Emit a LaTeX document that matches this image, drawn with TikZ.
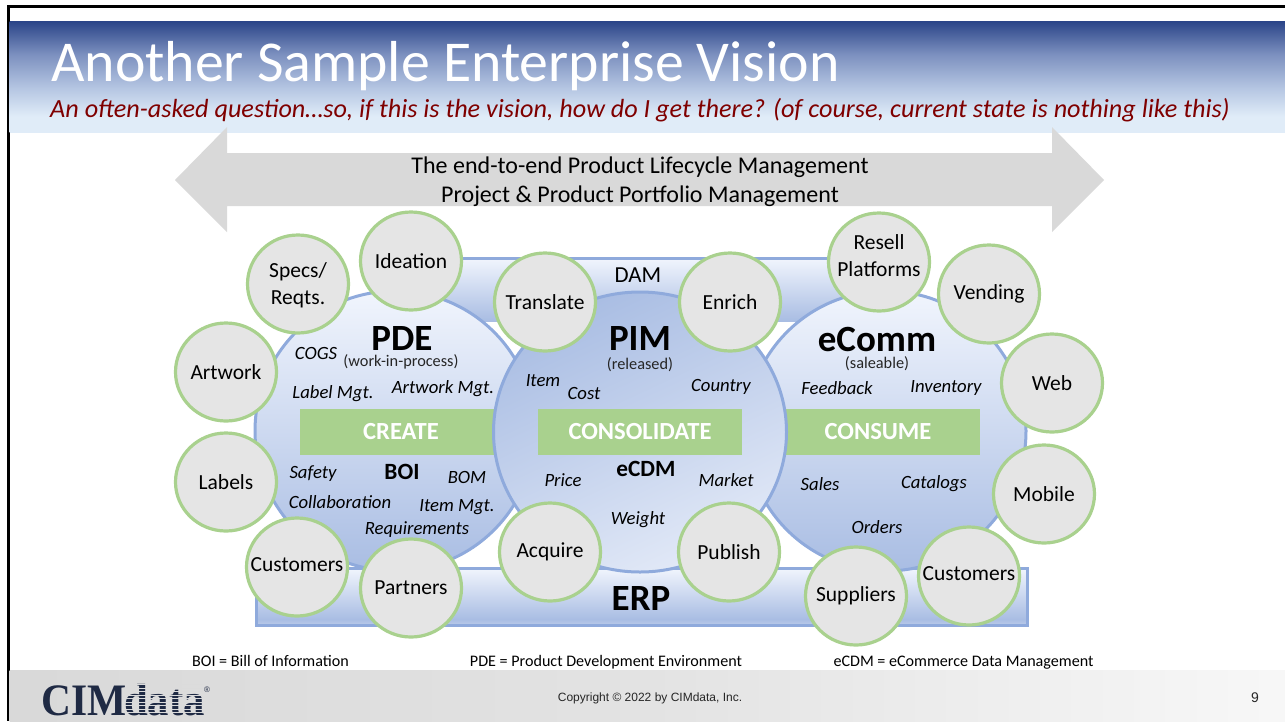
\documentclass[tikz,border=0pt]{standalone}
\usepackage{fontspec}
\setmainfont{Carlito}
\newfontfamily\arialf{Liberation Sans}
\newfontfamily\logof{Liberation Serif}
\usetikzlibrary{shapes.geometric}
\definecolor{hdrA}{HTML}{2A4488}
\definecolor{hdrB}{HTML}{7C90BF}
\definecolor{hdrC}{HTML}{B4C5E2}
\definecolor{hdrD}{HTML}{E0ECF8}
\definecolor{blueedge}{HTML}{8FAADC}
\definecolor{bluedark}{HTML}{A9BDE3}
\definecolor{bluelight}{HTML}{F1F5FD}
\definecolor{pimlight}{HTML}{E2E9F7}
\definecolor{greenbar}{HTML}{A9D18E}
\definecolor{gline}{HTML}{A9D18E}
\definecolor{bubble}{HTML}{E5E5E5}
\definecolor{arrowgray}{HTML}{D9D9D9}
\definecolor{subred}{HTML}{7F0000}
\definecolor{logoblue}{HTML}{1F2A44}
\pgfdeclareverticalshading{hdrshade}{100bp}{
 color(0bp)=(hdrD); color(32bp)=(hdrD); color(45bp)=(hdrC); color(60bp)=(hdrB); color(75bp)=(hdrA); color(100bp)=(hdrA)}
\pgfdeclareverticalshading{erpshade}{100bp}{
 color(0bp)=(bluedark!80!white); color(25bp)=(bluedark!80!white); color(30bp)=(bluedark); color(75bp)=(bluelight); color(100bp)=(bluelight)}
\pgfdeclareverticalshading{damshade}{100bp}{
 color(0bp)=(bluedark); color(25bp)=(bluedark); color(75bp)=(bluelight); color(100bp)=(bluelight)}
\tikzset{
 x=1pt,y=-1pt,
 bubblenode/.style={ellipse,draw=gline,line width=3.2pt,fill=bubble,minimum width=101pt,minimum height=98pt,inner xsep=-25pt,inner ysep=-5pt,align=center,font=\fontsize{21.5}{27}\selectfont,text=black},
 bubbletext/.style={inner sep=0pt,align=center,font=\fontsize{21.5}{27}\selectfont,text=black},
 ital/.style={font=\fontsize{18.7}{20}\selectfont\itshape,text=black,inner sep=0pt},
 bighead/.style={font=\fontsize{37}{38}\selectfont\bfseries,text=black,inner sep=0pt},
 midhead/.style={font=\fontsize{23.3}{24}\selectfont\bfseries,text=black,inner sep=0pt},
 sublabel/.style={font=\fontsize{16.3}{17}\selectfont,text=black!85,inner sep=0pt},
 barlabel/.style={font=\fontsize{24.6}{26}\selectfont\bfseries,text=white,inner sep=0pt},
 foot/.style={font=\fontsize{16.1}{17}\selectfont,text=black,inner sep=0pt,anchor=base},
 bigdisc/.style={ellipse,draw=blueedge,line width=3pt,inner sep=0pt},
}
\begin{document}
\begin{tikzpicture}
\useasboundingbox (0,0) rectangle (1285,721);
\fill[white] (0,0) rectangle (1285,721);
% slide frame
\fill[black] (7,5) rectangle (1285,7.5);
\fill[black] (7,5) rectangle (9.5,721);
% header
\shade[shading=hdrshade] (9.5,21) rectangle (1285,132);
\node[anchor=base west,inner sep=0pt,text=white,font=\fontsize{57.8}{60}\selectfont] (title) at (51,81) {Another Sample Enterprise Vision};
\node[anchor=base west,inner sep=0pt,text=subred,font=\fontsize{26.2}{28}\selectfont\itshape] (subtitle) at (50,117) {An often-asked question…so, if this is the vision, how do I get there? (of course, current state is nothing like this)};
% arrow
\fill[arrowgray] (175,180) -- (227,127) -- (227,153) -- (1052,153) -- (1052,127) -- (1104,180) -- (1052,232) -- (1052,206) -- (227,206) -- (227,232) -- cycle;
\node[inner sep=0pt,font=\fontsize{24}{29}\selectfont,align=center] (plm) at (640,181.5) {The end-to-end Product Lifecycle Management\\Project \& Product Portfolio Management};
% back bars
\shade[shading=damshade] (420,258) rectangle (870,321);
\fill[blueedge] (420,257) rectangle (870,260);
\shade[shading=erpshade,draw=blueedge,line width=3pt] (256,568) rectangle (1027,625);
% discs
\node[bigdisc,minimum width=280pt,minimum height=280pt,top color=bluelight,bottom color=bluedark] (pde) at (395,431) {};
\node[bigdisc,minimum width=280pt,minimum height=280pt,top color=bluelight,bottom color=bluedark] (ecomm) at (886,431) {};
\fill[greenbar] (300,409) rectangle (500,455);
\fill[greenbar] (780,409) rectangle (980,455);
\node[bigdisc,minimum width=293pt,minimum height=280pt,top color=bluedark,bottom color=pimlight,shading angle=25] (pim) at (640,432) {};
\fill[greenbar] (538,409) rectangle (742,455);
\node[barlabel] (create) at (401,431.5) {CREATE};
\node[barlabel] (consolidate) at (640,431.5) {CONSOLIDATE};
\node[barlabel] (consume) at (878,431.5) {CONSUME};
% bubbles
\node[bubblenode] (specs) at (298,284) {};
\node[bubbletext] (specst) at (298,285.5) {Specs/\\Reqts.};
\node[bubblenode] (ideation) at (411,261) {Ideation};
\node[bubblenode] (artwork) at (226,372) {Artwork};
\node[bubblenode] (translate) at (545,302) {Translate};
\node[bubblenode] (enrich) at (730,302) {Enrich};
\node[bubblenode] (resell) at (879,262) {};
\node[bubbletext] (resellt) at (879,256) {Resell\\Platforms};
\node[bubblenode] (vending) at (989,294) {Vending};
\node[bubblenode] (web) at (1052,383) {Web};
\node[bubblenode] (mobile) at (1044,494) {Mobile};
\node[bubblenode] (custr) at (969,576) {};
\node[bubbletext] (custrt) at (969,574) {Customers};
\node[bubblenode] (suppliers) at (856,596) {Suppliers};
\node[bubblenode] (publish) at (729,552) {Publish};
\node[bubblenode] (acquire) at (550,552) {Acquire};
\node[bubblenode] (custl) at (297,567) {};
\node[bubblenode] (partners) at (411,588) {Partners};
\node[bubblenode] (labels) at (226,482) {Labels};
\node[bubbletext] (custlt) at (297,565) {Customers};
% PDE text
\node[bighead] (tpde) at (402,338) {PDE};
\node[sublabel] (wip) at (401,361.5) {(work-in-process)};
\node[ital] (cogs) at (316,353) {COGS};
\node[ital] (labelm) at (333,394) {Label Mgt.};
\node[ital] (artm) at (443,389) {Artwork Mgt.};
\node[ital] (safety) at (313,473.5) {Safety};
\node[midhead] (boi) at (402,472) {BOI};
\node[ital] (bom) at (467,477) {BOM};
\node[ital] (collab) at (340,502.5) {Collaboration};
\node[ital] (itemm) at (457,507) {Item Mgt.};
\node[ital] (req) at (417,530) {Requirements};
% PIM text
\node[inner sep=0pt,font=\fontsize{22.9}{24}\selectfont] (dam) at (638,275) {DAM};
\node[bighead] (tpim) at (640,338) {PIM};
\node[sublabel] (rel) at (640,364.5) {(released)};
\node[ital] (item) at (543,381) {Item};
\node[ital] (cost) at (584,393) {Cost};
\node[ital] (country) at (721,386.5) {Country};
\node[midhead] (ecdm) at (646,469) {eCDM};
\node[ital] (price) at (563,480) {Price};
\node[ital] (market) at (726,480) {Market};
\node[ital] (weight) at (638,520) {Weight};
\node[bighead] (erp) at (641,598) {ERP};
% eComm text
\node[bighead] (tecomm) at (877,339) {eComm};
\node[sublabel] (sale) at (877,363.5) {(saleable)};
\node[ital] (feed) at (837,388) {Feedback};
\node[ital] (inv) at (946,388) {Inventory};
\node[ital] (sales) at (820,484) {Sales};
\node[ital] (cat) at (934,484) {Catalogs};
\node[ital] (orders) at (877,527) {Orders};
% footnotes
\node[foot] (f1) at (270.5,666) {BOI = Bill of Information};
\node[foot] (f2) at (606,666) {PDE = Product Development Environment};
\node[foot] (f3) at (963.5,666) {eCDM = eCommerce Data Management};
% footer
\shade[left color=black!15,right color=black!3,middle color=black!11] (9.5,670) rectangle (1285,721);
\node[anchor=base west,inner sep=0pt,xscale=.92,font=\fontsize{45}{48}\selectfont\logof\bfseries,text=logoblue] (logo) at (41,715) {CIM};
\node[anchor=base west,inner sep=0pt,xscale=.95,font=\fontsize{45}{48}\selectfont\logof\bfseries,text=logoblue] (logod) at (124,715) {data};
\foreach \yy in {684,687.5,...,716}{\fill[black!14] (123,\yy) rectangle (203,\yy+1.3);}
\node[anchor=base west,inner sep=0pt,font=\fontsize{8}{9}\selectfont\arialf,text=logoblue] (reg) at (204,692) {®};
\node[inner sep=0pt,font=\fontsize{12}{14}\selectfont\arialf,text=black!85] (copy) at (650,698) {Copyright © 2022 by CIMdata, Inc.};
\node[inner sep=0pt,font=\fontsize{14}{16}\selectfont\arialf,text=black!85] (page) at (1255,698) {9};
\end{tikzpicture}
\end{document}
